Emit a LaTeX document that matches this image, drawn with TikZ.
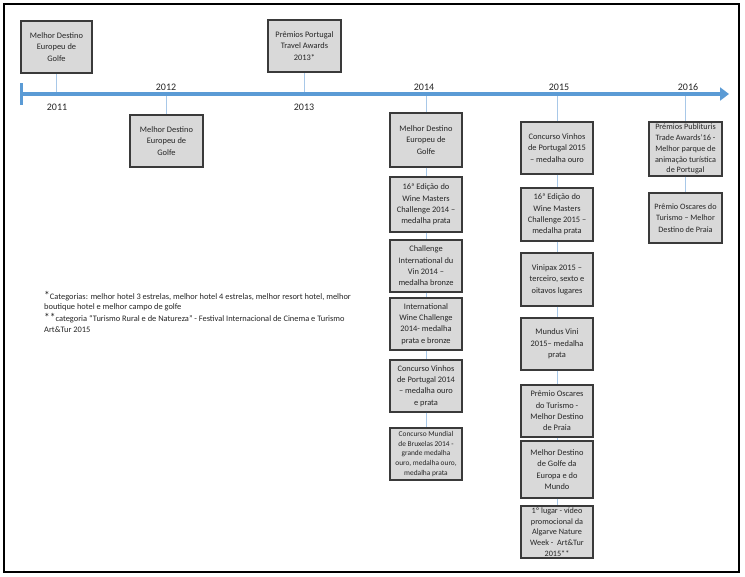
\documentclass[tikz,border=0pt]{standalone}
\usepackage{fontspec}
\setmainfont{Carlito}
\usetikzlibrary{arrows.meta}
\definecolor{tlblue}{HTML}{5B9BD5}
\definecolor{connblue}{HTML}{A8C8E8}
\definecolor{boxfill}{HTML}{D9D9D9}
\definecolor{boxline}{HTML}{3A3A3A}
\definecolor{txt}{HTML}{262626}
\tikzset{
  evbox/.style={draw=boxline, fill=boxfill, line width=1.1pt, align=center, inner sep=0pt,
    text=txt, font=\fontsize{8.4}{11.4}\selectfont},
  smallbox/.style={evbox, font=\fontsize{7.4}{9.9}\selectfont},
  midbox/.style={evbox, font=\fontsize{8.2}{11.2}\selectfont},
  conn/.style={draw=connblue, line width=0.9pt},
  yearlab/.style={text=txt, font=\fontsize{10}{12}\selectfont, inner sep=0pt},
  notetxt/.style={text=txt, font=\fontsize{8.4}{10.6}\selectfont, align=left, inner sep=0pt, anchor=north west}
}
\newcommand{\bigast}[1]{{\fontsize{11.5}{10}\selectfont #1}}
\begin{document}
\begin{tikzpicture}[x=1pt,y=-1pt]
\useasboundingbox (0,0) rectangle (745,577);
\fill[white] (0,0) rectangle (745,577);
\draw[line width=2pt, black] (4,4) rectangle (739,572);

% timeline coordinates
\coordinate (tl0) at (21,94);
\coordinate (tlend) at (729,94);
\coordinate (y11) at (56.5,94);
\coordinate (y12) at (166.5,94);
\coordinate (y13) at (304.5,94);
\coordinate (y14) at (426,94);
\coordinate (y15) at (557,94);
\coordinate (y16) at (685.5,94);

% boxes
\node[evbox, minimum width=71pt, minimum height=52pt] (b11) at (56.5,47) {Melhor Destino\\Europeu de\\Golfe};
\node[evbox, minimum width=73pt, minimum height=52pt] (b12) at (166.5,141) {Melhor Destino\\Europeu de\\Golfe};
\node[evbox, minimum width=73pt, minimum height=52pt] (b13) at (304.5,46) {Prêmios Portugal\\Travel Awards\\2013*};

\node[evbox, minimum width=72pt, minimum height=54pt] (a1) at (426,140) {Melhor Destino\\Europeu de\\Golfe};
\node[evbox, minimum width=72pt, minimum height=55pt] (a2) at (426,204.5) {16ª Edição do\\Wine Masters\\Challenge 2014 –\\medalha prata};
\node[evbox, minimum width=72pt, minimum height=52pt] (a3) at (426,266) {Challenge\\International du\\Vin 2014 –\\medalha bronze};
\node[evbox, minimum width=72pt, minimum height=52pt] (a4) at (426,324) {International\\Wine Challenge\\2014- medalha\\prata e bronze};
\node[evbox, minimum width=72pt, minimum height=52pt] (a5) at (426,386) {Concurso Vinhos\\de Portugal 2014\\– medalha ouro\\e prata};
\node[smallbox, minimum width=72pt, minimum height=52pt] (a6) at (426,454) {Concurso Mundial\\de Bruxelas 2014 -\\grande medalha\\ouro, medalha ouro,\\medalha prata};

\node[evbox, minimum width=72pt, minimum height=52pt] (c1) at (557,148) {Concurso Vinhos\\de Portugal 2015\\– medalha ouro};
\node[evbox, minimum width=72pt, minimum height=53pt] (c2) at (557,214.5) {16ª Edição do\\Wine Masters\\Challenge 2015 –\\medalha prata};
\node[evbox, minimum width=72pt, minimum height=53pt] (c3) at (557,279.5) {Vinipax 2015 –\\terceiro, sexto e\\oitavos lugares};
\node[evbox, minimum width=72pt, minimum height=52pt] (c4) at (557,344) {Mundus Vini\\2015– medalha\\prata};
\node[evbox, minimum width=72pt, minimum height=52pt] (c5) at (557,411) {Prêmio Oscares\\do Turismo -\\Melhor Destino\\de Praia};
\node[evbox, minimum width=72pt, minimum height=57pt] (c6) at (557,469.5) {Melhor Destino\\de Golfe da\\Europa e do\\Mundo};
\node[midbox, font=\fontsize{8.2}{10.8}\selectfont, minimum width=72pt, minimum height=52pt] (c7) at (557,532) {1º lugar - vídeo\\promocional da\\Algarve Nature\\Week -\ \ Art\&Tur\\2015**};

\node[midbox, font=\fontsize{8.2}{10.9}\selectfont, minimum width=73pt, minimum height=54pt] (d1) at (685.5,149) {Prémios Publituris\\Trade Awards'16 -\\Melhor parque de\\animação turística\\de Portugal};
\node[midbox, minimum width=73pt, minimum height=50pt] (d2) at (685.5,218) {Prêmio Oscares do\\Turismo – Melhor\\Destino de Praia};

% connectors
\draw[conn] (y11) -- (b11);
\draw[conn] (y12) -- (b12);
\draw[conn] (y13) -- (b13);
\draw[conn] (y14) -- (a1);
\draw[conn] (a1) -- (a2);
\draw[conn] (a2) -- (a3);
\draw[conn] (a3) -- (a4);
\draw[conn] (a4) -- (a5);
\draw[conn] (a5) -- (a6);
\draw[conn] (y15) -- (c1);
\draw[conn] (c1) -- (c2);
\draw[conn] (c2) -- (c3);
\draw[conn] (c3) -- (c4);
\draw[conn] (c4) -- (c5);
\draw[conn] (c5) -- (c6);
\draw[conn] (c6) -- (c7);
\draw[conn] (y16) -- (d1);
\draw[conn] (d1) -- (d2);

% timeline
\draw[tlblue, line width=4pt, -{Triangle[length=9pt,width=13pt]}] (tl0) -- (tlend);
\draw[tlblue, line width=3pt] ([yshift=-11pt]tl0) -- ([yshift=11pt]tl0);

% year labels
\node[yearlab] (l11) at (57,107) {2011};
\node[yearlab] (l12) at (166,87) {2012};
\node[yearlab] (l13) at (304,107) {2013};
\node[yearlab] (l14) at (424,87) {2014};
\node[yearlab] (l15) at (559,87) {2015};
\node[yearlab] (l16) at (688,87) {2016};

% footnotes
\node[notetxt] (n1) at (44,291) {\bigast{*}Categorias: melhor hotel 3 estrelas, melhor hotel 4 estrelas, melhor resort hotel, melhor\\boutique hotel e melhor campo de golfe\\[1pt]\bigast{**}categoria ``Turismo Rural e de Natureza'' - Festival Internacional de Cinema e Turismo\\Art\&Tur 2015};
\end{tikzpicture}
\end{document}
